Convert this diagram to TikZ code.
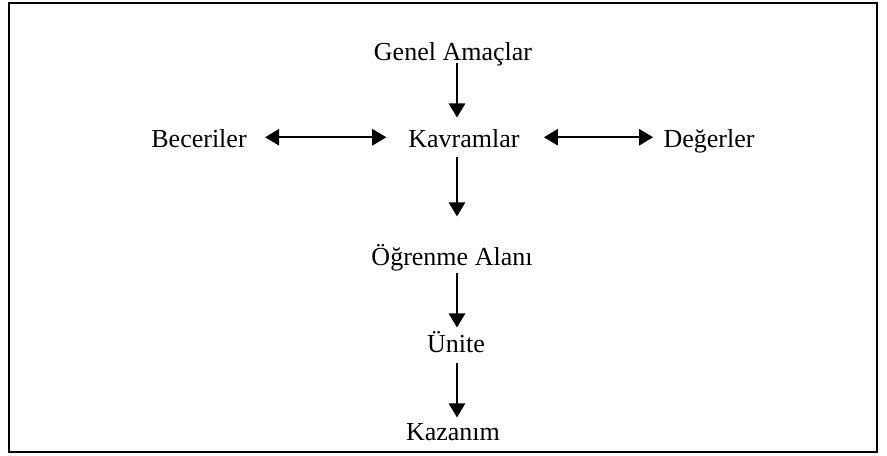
\documentclass[tikz,border=0pt]{standalone}
\usepackage{fontspec}
\setmainfont{Liberation Serif}
\usetikzlibrary{arrows.meta,calc,positioning}

\begin{document}
\begin{tikzpicture}[
  x=0.4615pt,y=-0.4615pt,
  label/.style={inner sep=0pt,anchor=base,text height=9pt,text depth=0pt,font=\fontsize{12}{14}\selectfont},
  arrow/.style={-{Triangle[length=6.5pt,width=7.5pt]},line width=0.9pt},
  twoway/.style={{Triangle[length=6.5pt,width=7.5pt]}-{Triangle[length=6.5pt,width=7.5pt]},line width=0.9pt},
]
\useasboundingbox (0,0) rectangle (887,455);
\draw[line width=1.2pt] (9,3) rectangle (877,452);

\node[label] (genel) at (453,60) {Genel Amaçlar};
\node[label] (kavram) at (464,147) {Kavramlar};
\node[label] (beceri) at (199,147) {Beceriler};
\node[label] (deger) at (709,147) {Değerler};
\node[label] (ogrenme) at (452,265) {Öğrenme Alanı};
\node[label] (unite) at (456,352) {Ünite};
\node[label] (kazanim) at (453,440) {Kazanım};
\coordinate (axis) at (457,0);

\draw[arrow,shorten <=1.4pt,shorten >=4.4pt] (axis |- genel.south) -- (axis |- kavram.north);
\draw[arrow,shorten <=4.6pt,shorten >=13.2pt] (axis |- kavram.south) -- (axis |- ogrenme.north);
\draw[arrow,shorten <=3.7pt,shorten >=2.1pt] (axis |- ogrenme.south) -- (axis |- unite.north);
\draw[arrow,shorten <=5.1pt,shorten >=1.2pt] (axis |- unite.south) -- (axis |- kazanim.north);
\draw[twoway,shorten <=8.3pt,shorten >=10pt] (beceri.east) -- (kavram.west);
\draw[twoway,shorten <=11pt,shorten >=4.6pt] (kavram.east) -- (deger.west);
\end{tikzpicture}
\end{document}
